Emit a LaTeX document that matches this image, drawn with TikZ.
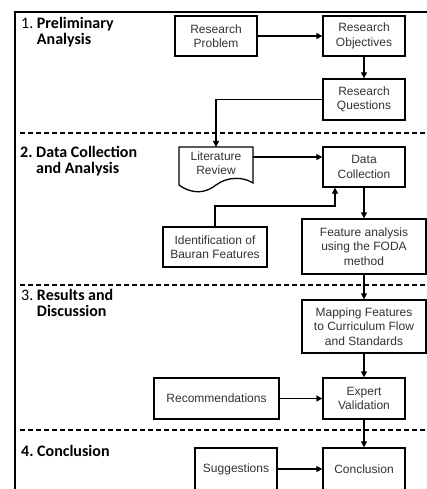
\documentclass[tikz,border=0pt]{standalone}
\usepackage{fontspec}
\setmainfont{Liberation Sans}
\newfontfamily\headfont{Carlito}
\usetikzlibrary{arrows.meta}
\definecolor{txt}{HTML}{333333}
\tikzset{
  box/.style={draw=black, line width=1.3pt, fill=white, text=txt, align=center,
    font=\fontsize{12}{14.5}\selectfont, inner sep=0pt},
  arr/.style={line width=1.3pt, -{Triangle[length=6pt,width=6pt]}},
  sep/.style={line width=1.2pt, dash pattern=on 4.5pt off 3.5pt},
  head/.style={anchor=base west, align=left, inner sep=0pt,
    font=\headfont\fontsize{16}{16}\selectfont}
}
\begin{document}
\begin{tikzpicture}[x=1pt,y=-1pt]
\useasboundingbox (0,0) rectangle (427,489);
\fill[white] (0,0) rectangle (427,489);
% frame
\draw[line width=2pt] (15,495) -- (15,12) -- (432,12);
% separators
\draw[sep] (20,133) -- (427,133);
\draw[sep] (20,285) -- (427,285);
\draw[sep] (20,430) -- (427,430);
% headings (anchor = baseline of last line)
\node[head] (h1) at (21,45) {1.~\textbf{Preliminary}\\\phantom{1.~}\textbf{Analysis}};
\node[head] (h2) at (20,173) {\textbf{2.~Data Collection}\\\phantom{\textbf{2.~}}\textbf{and Analysis}};
\node[head] (h3) at (21,316) {3.~\textbf{Results and}\\\phantom{3.~}\textbf{Discussion}};
\node[head] (h4) at (21,456) {\textbf{4.~Conclusion}};
% boxes
\node[box, minimum width=82pt, minimum height=40pt] (rp) at (216,36) {Research\\Problem};
\node[box, minimum width=82pt, minimum height=40pt] (ro) at (364,36) {Research\\Objectives};
\node[box, minimum width=82pt, minimum height=41pt] (rq) at (364,99.5) {Research\\Questions};
% literature review (document shape)
\draw[line width=1.3pt, fill=white] (179,147) -- (253,147) -- (253,183)
  .. controls (244,177) and (228,176) .. (216,185)
  .. controls (206,193) and (193,195) .. (179,185) -- cycle;
\node[box, draw=none, fill=none, minimum width=74pt, minimum height=28pt] (lr) at (216,163) {Literature\\Review};
\node[box, minimum width=82pt, minimum height=40pt] (dc) at (364,167) {Data\\Collection};
\node[box, minimum width=104pt, minimum height=40pt] (id) at (215,247) {Identification of\\Bauran Features};
\node[box, minimum width=124pt, minimum height=55pt] (fa) at (364,246.5) {Feature analysis\\using the FODA\\method};
\node[box, minimum width=124pt, minimum height=53pt] (mp) at (364,326.5) {Mapping Features\\to Curriculum Flow\\and Standards};
\node[box, minimum width=82pt, minimum height=41pt] (ev) at (364,398.5) {Expert\\Validation};
\node[box, minimum width=125pt, minimum height=41pt] (rc) at (216.5,398.5) {Recommendations};
\node[box, minimum width=82pt, minimum height=42pt] (cn) at (364,469) {Conclusion};
\node[box, minimum width=82pt, minimum height=42pt] (sg) at (236,469) {Suggestions};
% connectors
\coordinate (lrtop) at (216,147);
\coordinate (lrr) at (253,157);
\coordinate (j) at (335,206);
\draw[arr] (rp) -- (ro);
\draw[arr] (ro) -- (rq);
\draw[arr] (rq.west) -| (lrtop);
\draw[arr] (lrr) -- (lrr -| dc.west);
\draw[arr] (id.north) |- (j) -- (j |- dc.south);
\draw[arr] (dc) -- (fa);
\draw[arr] (fa) -- (mp);
\draw[arr] (mp) -- (ev);
\draw[arr] (rc) -- (ev);
\draw[arr] (ev) -- (cn);
\draw[arr] (sg) -- (cn);
\end{tikzpicture}
\end{document}
